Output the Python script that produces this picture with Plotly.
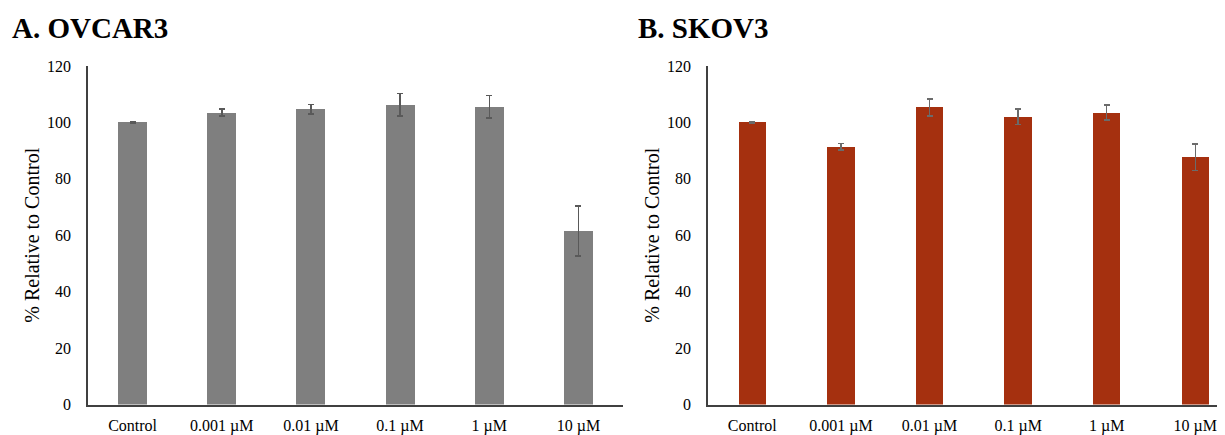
import plotly.graph_objects as go

categories = ["Control", "0.001 µM", "0.01 µM", "0.1 µM", "1 µM", "10 µM"]
ovcar3_values = [100.0, 103.5, 104.6, 106.3, 105.5, 61.5]
ovcar3_errors = [0.2, 1.2, 1.7, 4.0, 4.0, 8.8]
skov3_values = [100.0, 91.4, 105.3, 102.0, 103.5, 87.6]
skov3_errors = [0.2, 1.1, 3.0, 2.8, 2.6, 4.7]
y_ticks = [0, 20, 40, 60, 80, 100, 120]

W, H = 1225, 435
OFF = 8  # page offset of the figure (body margin)
FONT = "Liberation Serif"

fig = go.Figure()
fig.add_trace(go.Bar(
    x=categories, y=ovcar3_values, xaxis="x", yaxis="y",
    marker=dict(color="#7f7f7f", line=dict(width=0)), width=0.325,
    error_y=dict(type="data", array=ovcar3_errors, color="#595959", thickness=1.5, width=3),
    showlegend=False,
))
fig.add_trace(go.Bar(
    x=categories, y=skov3_values, xaxis="x2", yaxis="y2",
    marker=dict(color="#a5300f", line=dict(width=0)), width=0.31,
    error_y=dict(type="data", array=skov3_errors, color="#6b6b6b", thickness=1.5, width=3),
    showlegend=False,
))

def px_x(p):
    return (p - OFF) / W

def px_y(p):
    return 1 - (p - OFF) / H

def xax(**kw):
    return dict(showgrid=False, showline=True, linecolor="#404040", linewidth=1.5,
                ticks="", tickfont=dict(family=FONT, size=16, color="#000000"),
                ticklabelstandoff=6, fixedrange=True, type="category", automargin=False, **kw)

def yax(**kw):
    return dict(showgrid=False, showline=True, linecolor="#404040", linewidth=1.5,
                ticks="", range=[0, 120], tickvals=y_ticks, zeroline=False,
                tickfont=dict(family=FONT, size=16, color="#000000"),
                ticklabelstandoff=12, automargin=False,
                title=dict(text="% Relative to Control", font=dict(family=FONT, size=20, color="#000000"),
                           standoff=2), **kw)

y_dom = [px_y(404.5), px_y(66)]
fig.update_layout(
    width=W, height=H, margin=dict(l=0, r=0, t=0, b=0, autoexpand=False),
    paper_bgcolor="white", plot_bgcolor="white",
    xaxis=xax(domain=[px_x(88), px_x(623)], range=[-0.5, 5.5], anchor="y"),
    yaxis=yax(domain=y_dom, anchor="x"),
    xaxis2=xax(domain=[px_x(708), 1.0], range=[-0.5, 5.425], anchor="y2"),
    yaxis2=yax(domain=y_dom, anchor="x2"),
    bargap=0.0,
    annotations=[
        dict(text="<b>A. OVCAR3</b>", xref="paper", yref="paper", x=px_x(10), y=px_y(28),
             xanchor="left", yanchor="middle", showarrow=False,
             font=dict(family=FONT, size=29, color="#000000")),
        dict(text="<b>B. SKOV3</b>", xref="paper", yref="paper", x=px_x(636), y=px_y(28),
             xanchor="left", yanchor="middle", showarrow=False,
             font=dict(family=FONT, size=29, color="#000000")),
    ],
)

fig.write_html("out.html")
